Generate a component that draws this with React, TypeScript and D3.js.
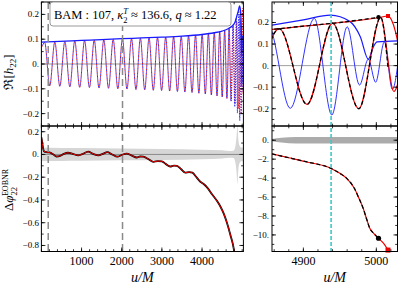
import React from "react";
import * as d3 from "d3";

// ---------- data ----------
// NR waveform extrema  [u/M, Re h22]
const nrWave: [number, number][] = [
  [15, 0.07], [82, 0.087], [208, -0.088], [334, 0.089], [459, -0.09], [584, 0.091], [708, -0.092],
  [831, 0.093], [953, -0.094], [1075, 0.095], [1196, -0.095], [1316, 0.096], [1435, -0.097],
  [1554, 0.097], [1671, -0.098], [1788, 0.099], [1903, -0.1], [2018, 0.101], [2131, -0.101],
  [2244, 0.102], [2355, -0.103], [2465, 0.104], [2573, -0.104], [2681, 0.105], [2786, -0.106],
  [2891, 0.107], [2993, -0.107], [3095, 0.108], [3194, -0.109], [3292, 0.11], [3387, -0.111],
  [3482, 0.112], [3573, -0.113], [3664, 0.114], [3751, -0.115], [3838, 0.117], [3921, -0.118],
  [4003, 0.12], [4081, -0.121], [4159, 0.123], [4232, -0.125], [4305, 0.127], [4373, -0.129],
  [4440, 0.131], [4502, -0.133], [4564, 0.136], [4620, -0.139], [4676, 0.143], [4726, -0.148],
  [4776, 0.153], [4822, -0.16], [4867, 0.171], [4905, -0.18], [4940, 0.197], [4976, -0.2],
  [5006, 0.224], [5024, -0.12], [5034, -0.02],
];
// second model (blue) departs from NR after u ~ 4620
const blueTail: [number, number][] = [
  [4672, 0.143], [4722, -0.15], [4770, 0.158], [4815, -0.172], [4852, 0.185], [4882, -0.198],
  [4915, 0.219], [4939, -0.229], [4960, 0.18], [4977, -0.09], [4989, 0.03], [4999, -0.077],
  [5011, 0.11], [5022, -0.11], [5033, 0.11],
];
const blueSplitU = 4620;
// aligned EOB (black dashed) near merger
const eobWave: [number, number][] = [
  [4776, 0.153], [4822, -0.16], [4867, 0.171], [4905, -0.18], [4940, 0.197], [4976, -0.2],
  [5006, 0.224], [5016, -0.01],
];
// amplitudes
const blueAmp: [number, number][] = [
  [0, 0.088], [300, 0.09], [600, 0.092], [1000, 0.095], [1500, 0.098], [2000, 0.102], [2500, 0.105],
  [3000, 0.108], [3500, 0.112], [4000, 0.119], [4300, 0.126], [4500, 0.133], [4650, 0.142],
  [4750, 0.153], [4820, 0.168], [4857, 0.188], [4900, 0.212], [4937, 0.234], [4964, 0.204],
  [4978, 0.134], [4989, 0.03], [4996, 0.088], [5001, 0.11], [5030, 0.115],
];
const nrAmp: [number, number][] = [
  [4780, 0.155], [4857, 0.168], [4900, 0.183], [4950, 0.2], [5003, 0.222], [5016, 0.23],
  [5021, 0.21], [5026, 0.16], [5030, 0.1],
];
const eobAmp: [number, number][] = [
  [4780, 0.155], [4857, 0.168], [4900, 0.183], [4950, 0.2], [5003, 0.224],
];
const nrPeak: [number, number] = [5016, 0.23];
const eobPeak: [number, number] = [5003, 0.224];

// phase differences
const phaseLeft: [number, number][] = [
  [0, 0.15], [30, 0.08], [60, 0.03], [120, 0.02], [200, 0.018], [300, 0.0], [375, -0.018],
  [480, -0.01], [560, 0.005], [665, 0.015], [780, 0.005], [917, -0.008], [1000, 0.0],
  [1167, 0.024], [1290, 0.005], [1417, -0.008], [1530, 0.005], [1642, 0.02], [1760, 0.0],
  [1892, -0.02], [2000, -0.005], [2125, 0.008], [2250, -0.01], [2375, -0.027], [2460, -0.018],
  [2540, -0.02], [2660, -0.04], [2790, -0.065], [2900, -0.058], [3000, -0.06], [3100, -0.085],
  [3208, -0.106], [3300, -0.098], [3375, -0.1], [3480, -0.13], [3583, -0.16], [3680, -0.155],
  [3760, -0.16], [3860, -0.2], [3958, -0.24], [4040, -0.26], [4125, -0.29], [4250, -0.35],
  [4375, -0.41], [4460, -0.46], [4540, -0.52], [4620, -0.6], [4708, -0.71], [4790, -0.83],
  [4850, -1.0],
];
const errBandLeft: [number, number][] = [
  [0, 0.058], [500, 0.057], [1000, 0.056], [2000, 0.052], [3000, 0.048], [4000, 0.042],
  [4500, 0.036], [4700, 0.03], [4780, 0.032], [4830, 0.07], [4860, 0.16], [4880, 0.26],
  [4900, 0.15], [4930, 0.08], [4980, 0.06], [5030, 0.06],
];
const phaseRight: [number, number][] = [
  [4857, -1.45], [4880, -1.85], [4905, -2.3], [4938, -2.98], [4950, -3.5], [4959, -4.0],
  [4970, -5.1], [4976, -6.1], [4982, -7.2], [4987, -8.4], [4991, -9.3], [4996, -9.8],
  [5003, -10.35], [5010, -10.9], [5016, -11.6],
];
const eobPhaseEnd = 5003;
const errBandRight: [number, number][] = [
  [4857, 0.12], [4870, 0.25], [4890, 0.35], [5030, 0.35],
];

const markerLeftU = [170, 2020];
const markerRightU = 4938;

const xTicksLeft = [1000, 2000, 3000, 4000];
const xTicksRight = [4900, 5000];
const yTicksTop = [-0.2, -0.1, 0, 0.1, 0.2];
const yTicksLeftBottom = [0.2, 0, -0.2, -0.4, -0.6, -0.8];
const yTicksRightBottom = [0, -2, -4, -6, -8, -10];

// ---------- layout ----------
const W = 399, H = 288;
const LX0 = 41.4, LX1 = 243.4, RX0 = 272, RX1 = 397.5;
const TY0 = 2, MY = 126, BY1 = 251.5;

const xL = d3.scaleLinear().domain([0, 5030]).range([LX0, LX1]);
const xR = d3.scaleLinear().domain([4857, 5029]).range([RX0, RX1]);
const yLT = d3.scaleLinear().domain([-0.25, 0.25]).range([MY, TY0]);
const yLB = d3.scaleLinear().domain([-0.853, 0.25]).range([BY1, MY]);
const yRT = d3.scaleLinear().domain([-0.28, 0.295]).range([MY, TY0]);
const yRB = d3.scaleLinear().domain([-11.75, 1.5]).range([BY1, MY]);

const SERIF = "'Liberation Serif', 'DejaVu Serif', serif";
const RED = "#f00000";
const BLUE = "#1a1aff";

function fmt(v: number): string {
  const r = Math.round(v * 1000) / 1000;
  if (r === 0) return "0.";
  const s = Math.abs(r).toString();
  const t = Number.isInteger(r) ? s + "." : s;
  return (r < 0 ? "\u2212" : "") + t;
}

function range(a: number, b: number, step: number): number[] {
  const out: number[] = [];
  for (let v = a; v <= b + 1e-9; v += step) out.push(Math.round(v * 1e6) / 1e6);
  return out;
}

type Scale = d3.ScaleLinear<number, number>;

function lineGen(xs: Scale, ys: Scale, curve = d3.curveMonotoneX) {
  return d3
    .line<[number, number]>()
    .x((d) => xs(d[0]))
    .y((d) => ys(d[1]))
    .curve(curve);
}

function Ticks(props: {
  x0: number; x1: number; y0: number; y1: number;
  xs: Scale; ys: Scale;
  xMajor: number[]; xMinor: number[]; yMajor: number[]; yMinor: number[];
}) {
  const { x0, x1, y0, y1, xs, ys } = props;
  const big = 4, small = 2.3;
  const els: JSX.Element[] = [];
  const inX = (v: number) => { const p = xs(v); return p >= x0 - 0.1 && p <= x1 + 0.1; };
  const inY = (v: number) => { const p = ys(v); return p >= Math.min(y0, y1) - 0.1 && p <= Math.max(y0, y1) + 0.1; };
  const addX = (vals: number[], len: number, k: string) =>
    vals.filter(inX).forEach((v, i) => {
      const p = xs(v);
      els.push(<line key={`${k}b${i}`} x1={p} x2={p} y1={y1} y2={y1 - len} stroke="#000" strokeWidth={0.8} />);
      els.push(<line key={`${k}t${i}`} x1={p} x2={p} y1={y0} y2={y0 + len} stroke="#000" strokeWidth={0.8} />);
    });
  const addY = (vals: number[], len: number, k: string) =>
    vals.filter(inY).forEach((v, i) => {
      const p = ys(v);
      els.push(<line key={`${k}l${i}`} x1={x0} x2={x0 + len} y1={p} y2={p} stroke="#000" strokeWidth={0.8} />);
      els.push(<line key={`${k}r${i}`} x1={x1} x2={x1 - len} y1={p} y2={p} stroke="#000" strokeWidth={0.8} />);
    });
  addX(props.xMajor, big, "xM");
  addX(props.xMinor, small, "xm");
  addY(props.yMajor, big, "yM");
  addY(props.yMinor, small, "ym");
  return (
    <g>
      {els}
      <rect x={x0} y={y0} width={x1 - x0} height={y1 - y0} fill="none" stroke="#000" strokeWidth={1} />
    </g>
  );
}

export default function App() {
  const blueWave = nrWave.filter((d) => d[0] <= blueSplitU).concat(blueTail);

  const lLT = lineGen(xL, yLT);
  const lLB = lineGen(xL, yLB);
  const lRT = lineGen(xR, yRT);
  const lRB = lineGen(xR, yRB);

  const bandL = d3
    .area<[number, number]>()
    .x((d) => xL(d[0]))
    .y0((d) => yLB(-d[1]))
    .y1((d) => yLB(d[1]))
    .curve(d3.curveMonotoneX);
  const bandR = d3
    .area<[number, number]>()
    .x((d) => xR(d[0]))
    .y0((d) => yRB(-d[1]))
    .y1((d) => yRB(d[1]))
    .curve(d3.curveMonotoneX);

  const eobPhase = phaseRight.filter((d) => d[0] <= eobPhaseEnd);
  const eobPhaseLast = eobPhase[eobPhase.length - 1];
  const nrPhaseLast = phaseRight[phaseRight.length - 1];

  const xMinorL = range(0, 5000, 200);
  const xMinorR = range(4860, 5020, 20);
  const yMinorTop = range(-0.25, 0.25, 0.05);

  return (
    <svg width={W} height={H} style={{ display: "block", position: "absolute", left: 0, top: 0, background: "#fff" }} fontFamily={SERIF}>
      <defs>
        <clipPath id="cLT"><rect x={LX0} y={TY0} width={LX1 - LX0} height={MY - TY0} /></clipPath>
        <clipPath id="cLB"><rect x={LX0} y={MY} width={LX1 - LX0} height={BY1 - MY} /></clipPath>
        <clipPath id="cRT"><rect x={RX0} y={TY0} width={RX1 - RX0} height={MY - TY0} /></clipPath>
        <clipPath id="cRB"><rect x={RX0} y={MY} width={RX1 - RX0} height={BY1 - MY} /></clipPath>
      </defs>
      <rect x={0} y={0} width={W} height={H} fill="#fff" />

      {/* ---- left top ---- */}
      <g clipPath="url(#cLT)">
        <line x1={LX0} x2={LX1} y1={yLT(0)} y2={yLT(0)} stroke="#666" strokeWidth={0.7} />
        <path d={lLT(nrWave) || ""} fill="none" stroke={RED} strokeWidth={0.9} strokeDasharray="1.3,1.3" />
        <path d={lLT(blueWave) || ""} fill="none" stroke={BLUE} strokeWidth={0.9} strokeDasharray="1.3,1.3" strokeDashoffset={1.3} />
        <path d={lLT(blueAmp) || ""} fill="none" stroke={BLUE} strokeWidth={1.3} />
      </g>

      {/* ---- left bottom ---- */}
      <g clipPath="url(#cLB)">
        <path d={bandL(errBandLeft) || ""} fill="#d6d6d6" />
        <line x1={LX0} x2={LX1} y1={yLB(0)} y2={yLB(0)} stroke="#777" strokeWidth={0.8} />
        <path d={lLB(phaseLeft) || ""} fill="none" stroke="#000" strokeWidth={1.8} />
        <path d={lLB(phaseLeft) || ""} fill="none" stroke={RED} strokeWidth={1.0} />
      </g>

      {markerLeftU.map((u, i) => (
        <line key={`gd${i}`} x1={xL(u)} x2={xL(u)} y1={TY0} y2={BY1} stroke="#8a8a8a" strokeWidth={1.5} strokeDasharray="7,4" />
      ))}

      {/* ---- right top ---- */}
      <g clipPath="url(#cRT)">
        <line x1={RX0} x2={RX1} y1={yRT(0)} y2={yRT(0)} stroke="#777" strokeWidth={0.7} />
        <path d={lRT(blueWave) || ""} fill="none" stroke={BLUE} strokeWidth={0.9} />
        <path d={lRT(blueAmp) || ""} fill="none" stroke={BLUE} strokeWidth={1.2} />
        <path d={lRT(nrWave) || ""} fill="none" stroke={RED} strokeWidth={1.2} />
        <path d={lRT(nrAmp) || ""} fill="none" stroke={RED} strokeWidth={1.2} />
        <path d={lRT(eobWave) || ""} fill="none" stroke="#000" strokeWidth={1.3} strokeDasharray="4,2.5" />
        <path d={lRT(eobAmp) || ""} fill="none" stroke="#000" strokeWidth={1.3} strokeDasharray="4,2.5" />
        <rect x={xR(nrPeak[0]) - 2} y={yRT(nrPeak[1]) - 2} width={4} height={4} fill={RED} />
        <circle cx={xR(eobPeak[0])} cy={yRT(eobPeak[1])} r={2.2} fill="#000" />
      </g>

      {/* ---- right bottom ---- */}
      <g clipPath="url(#cRB)">
        <path d={bandR(errBandRight) || ""} fill="#ababab" />
        <path d={lRB(phaseRight) || ""} fill="none" stroke={RED} strokeWidth={1.2} />
        <path d={lRB(eobPhase) || ""} fill="none" stroke="#000" strokeWidth={1.3} strokeDasharray="4,2.5" />
      </g>
      <rect x={xR(nrPhaseLast[0]) - 2.5} y={yRB(nrPhaseLast[1]) - 2.5} width={5} height={5} fill={RED} />
      <circle cx={xR(eobPhaseLast[0])} cy={yRB(eobPhaseLast[1])} r={2.6} fill="#000" />

      <line x1={xR(markerRightU)} x2={xR(markerRightU)} y1={TY0} y2={BY1} stroke="#3ec8c8" strokeWidth={1.6} strokeDasharray="4,2" />

      {/* ---- frames & ticks ---- */}
      <Ticks x0={LX0} x1={LX1} y0={TY0} y1={MY} xs={xL} ys={yLT}
        xMajor={xTicksLeft} xMinor={xMinorL} yMajor={yTicksTop} yMinor={yMinorTop} />
      <Ticks x0={LX0} x1={LX1} y0={MY} y1={BY1} xs={xL} ys={yLB}
        xMajor={xTicksLeft} xMinor={xMinorL} yMajor={yTicksLeftBottom} yMinor={range(-0.9, 0.3, 0.1)} />
      <Ticks x0={RX0} x1={RX1} y0={TY0} y1={MY} xs={xR} ys={yRT}
        xMajor={xTicksRight} xMinor={xMinorR} yMajor={yTicksTop} yMinor={yMinorTop} />
      <Ticks x0={RX0} x1={RX1} y0={MY} y1={BY1} xs={xR} ys={yRB}
        xMajor={xTicksRight} xMinor={xMinorR} yMajor={yTicksRightBottom} yMinor={range(-11, 1, 1)} />

      {/* ---- tick labels ---- */}
      <g fontSize={9} textAnchor="end">
        {yTicksTop.map((v) => (
          <text key={`lt${v}`} x={LX0 - 2.5} y={yLT(v) + 3}>{fmt(v)}</text>
        ))}
        {yTicksLeftBottom.map((v) => (
          <text key={`lb${v}`} x={LX0 - 2.5} y={yLB(v) + 3}>{fmt(v)}</text>
        ))}
        {yTicksTop.map((v) => (
          <text key={`rt${v}`} x={RX0 - 3} y={yRT(v) + 3}>{fmt(v)}</text>
        ))}
        {yTicksRightBottom.map((v) => (
          <text key={`rb${v}`} x={RX0 - 3} y={yRB(v) + 3}>{fmt(v)}</text>
        ))}
      </g>
      <g fontSize={12} textAnchor="middle">
        {xTicksLeft.map((v) => (
          <text key={`xl${v}`} x={xL(v)} y={265}>{v}</text>
        ))}
        {xTicksRight.map((v) => (
          <text key={`xr${v}`} x={xR(v)} y={265}>{v}</text>
        ))}
      </g>

      {/* ---- axis labels ---- */}
      <text x={(LX0 + LX1) / 2} y={282} fontSize={14} textAnchor="middle" fontStyle="italic">u/M</text>
      <text x={(RX0 + RX1) / 2} y={282} fontSize={14} textAnchor="middle" fontStyle="italic">u/M</text>

      <text transform="translate(13,72) rotate(-90)" fontSize={13} textAnchor="middle">
        ℜ[<tspan fontStyle="italic">h</tspan><tspan fontSize={9} dy={3}>22</tspan><tspan dy={-3}>]</tspan>
      </text>
      <text transform="translate(13,190) rotate(-90)" fontSize={13} textAnchor="middle">
        Δ<tspan fontStyle="italic">φ</tspan><tspan fontSize={8.5} dy={3.5}>22</tspan>
        <tspan fontSize={8} dx={-9} dy={-9}>EOBNR</tspan>
      </text>

      {/* ---- legend ---- */}
      <rect x={50} y={2} width={181} height={24} rx={3} fill="#fff" stroke="#999" strokeWidth={1} />
      <text x={54} y={19} fontSize={12.5}>
        BAM : 107, <tspan fontStyle="italic">κ</tspan>
        <tspan fontSize={8.5} dy={3.5}>2</tspan>
        <tspan fontSize={8.5} fontStyle="italic" dx={-4.3} dy={-9}>T</tspan>
        <tspan dy={5.5}> ≈ 136.6, </tspan>
        <tspan fontStyle="italic">q</tspan> ≈ 1.22
      </text>
    </svg>
  );
}
